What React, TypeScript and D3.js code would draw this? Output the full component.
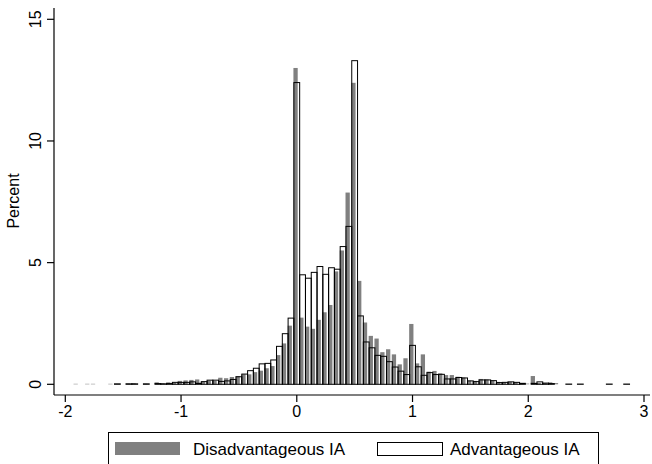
import React from 'react'
import * as d3 from 'd3'

// bins are 0.05 wide, centred on -1.90, -1.85, ... 2.90
const binStart = -1.9
const binWidth = 0.05

// percent per bin, Disadvantageous IA (grey bars)
const disadvantageous = [
  0.02, 0, 0.02, 0.02, 0, 0, 0.02, 0, 0, 0.03,
  0.04, 0, 0.02, 0, 0.08, 0.04, 0.08, 0.06, 0.14, 0.16,
  0.18, 0.2, 0.1, 0.15, 0.14, 0.27, 0.25, 0.3, 0.34, 0.41,
  0.41, 0.5, 0.56, 0.66, 0.75, 1.2, 1.68, 2.41, 13.0, 2.74,
  2.37, 2.28, 2.65, 2.96, 3.26, 4.64, 5.5, 7.88, 12.39, 4.25,
  2.54, 1.99, 1.88, 1.32, 1.44, 1.23, 0.82, 1.07, 2.48, 0.86,
  1.23, 0.52, 0.55, 0.45, 0.38, 0.38, 0.31, 0.28, 0.15, 0.14,
  0.22, 0.2, 0.15, 0.1, 0.08, 0.1, 0.08, 0.04, 0.03, 0.34,
  0.05, 0.04, 0.08, 0.05, 0, 0, 0, 0, 0, 0,
  0, 0, 0, 0, 0, 0, 0,
]

// percent per bin, Advantageous IA (hollow bars)
const advantageous = [
  0, 0, 0, 0, 0, 0, 0, 0.02, 0, 0.02,
  0.02, 0, 0.02, 0, 0.03, 0.02, 0.03, 0.08, 0.08, 0.08,
  0.1, 0.04, 0.11, 0.17, 0.17, 0.12, 0.14, 0.2, 0.31, 0.42,
  0.56, 0.66, 0.84, 0.86, 1.0, 1.56, 2.08, 2.72, 12.4, 4.5,
  4.36, 4.6, 4.84, 4.52, 4.79, 4.73, 5.66, 6.49, 13.3, 2.81,
  1.74, 1.5, 1.19, 1.15, 0.93, 0.71, 0.54, 0.4, 1.6, 0.72,
  0.37, 0.48, 0.4, 0.41, 0.22, 0.22, 0.28, 0.26, 0.14, 0.11,
  0.18, 0.18, 0.15, 0.07, 0.08, 0.1, 0.08, 0.04, 0, 0.04,
  0.1, 0.05, 0.03, 0, 0, 0.01, 0, 0.01, 0, 0,
  0, 0, 0.01, 0, 0, 0.01, 0,
]

const xTicks = [-2, -1, 0, 1, 2, 3]
const yTicks = [0, 5, 10, 15]
const legendLabels = ['Disadvantageous IA', 'Advantageous IA']

const font = '"Liberation Sans", Arial, Helvetica, sans-serif'

export default function App() {
  const width = 652
  const height = 464
  const plot = {left: 54, right: 650, top: 8, bottom: 395}

  const x = d3.scaleLinear().domain([-2, 3]).range([65.3, 644.0])
  const y = d3.scaleLinear().domain([0, 15]).range([384.3, 19.3])

  const centers = disadvantageous.map((_, i) => binStart + i * binWidth)

  return (
    <svg width={width} height={height}
      style={{position: 'absolute', left: 0, top: 0, background: '#fff'}}
      fontFamily={font}>
      <rect x={0} y={0} width={width} height={height} fill="#fff" />

      <g id="bars">
        {disadvantageous.map((v, i) => v > 0 && (
          <rect key={'d' + i}
            x={x(centers[i] - 0.029)}
            y={y(v)}
            width={x(centers[i] + 0.008) - x(centers[i] - 0.029)}
            height={y(0) - y(v)}
            fill="#808080" />
        ))}
        {advantageous.map((v, i) => v > 0 && (
          <rect key={'a' + i}
            x={x(centers[i] - 0.025)}
            y={y(v)}
            width={x(centers[i] + 0.025) - x(centers[i] - 0.025)}
            height={y(0) - y(v)}
            fill="none" stroke="#000" strokeWidth={1} />
        ))}
      </g>

      <g id="y-axis">
        <line x1={plot.left} x2={plot.left} y1={plot.top} y2={plot.bottom} stroke="#000" strokeWidth={1.2} />
        {yTicks.map(t => (
          <g key={t}>
            <line x1={plot.left - 7} x2={plot.left} y1={y(t)} y2={y(t)} stroke="#000" strokeWidth={1.2} />
            <text transform={`translate(40.5, ${y(t)}) rotate(-90)`} textAnchor="middle" fontSize={16}>{t}</text>
          </g>
        ))}
        <text transform="translate(19, 201) rotate(-90)" textAnchor="middle" fontSize={16}>Percent</text>
      </g>

      <g id="x-axis">
        <line x1={plot.left} x2={plot.right} y1={plot.bottom} y2={plot.bottom} stroke="#000" strokeWidth={1.2} />
        {xTicks.map(t => (
          <g key={t}>
            <line x1={x(t)} x2={x(t)} y1={plot.bottom} y2={plot.bottom + 7} stroke="#000" strokeWidth={1.2} />
            <text x={x(t)} y={417} textAnchor="middle" fontSize={16}>{t}</text>
          </g>
        ))}
      </g>

      <g id="legend">
        <rect x={108.5} y={432.5} width={490} height={40} fill="#fff" stroke="#000" strokeWidth={1} />
        <rect x={115} y={442} width={65} height={13} fill="#808080" />
        <text x={193} y={455} fontSize={17}>{legendLabels[0]}</text>
        <rect x={377.5} y={442.5} width={65} height={13} fill="#fff" stroke="#000" strokeWidth={1} />
        <text x={450} y={455} fontSize={17}>{legendLabels[1]}</text>
      </g>
    </svg>
  )
}
